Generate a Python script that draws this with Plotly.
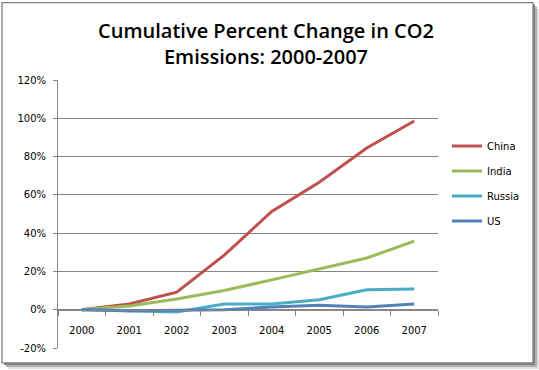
import plotly.graph_objects as go

years = ["2000", "2001", "2002", "2003", "2004", "2005", "2006", "2007"]
china = [0, 3.0, 9.2, 28.5, 51.3, 66.6, 84.5, 98.6]
india = [0, 2.0, 5.6, 10.0, 15.6, 21.4, 27.0, 35.8]
russia = [0, -0.5, -1.2, 3.0, 3.0, 5.2, 10.4, 10.8]
us = [0, -0.6, -0.3, 0.0, 1.4, 2.3, 1.4, 3.0]

series = [("China", china, "#C0504D"), ("India", india, "#9BBB59"),
          ("Russia", russia, "#4BACC6"), ("US", us, "#4F81BD")]

W, H = 539, 370
PX0, PX1, PY0, PY1 = 58, 438, 79.5, 348  # plot area pixels


def fx(px):
    return (px - PX0) / (PX1 - PX0)


def fy(py):
    return (PY1 - py) / (PY1 - PY0)


fig = go.Figure()
for i, (name, vals, col) in enumerate(series):
    fig.add_trace(go.Scatter(x=years, y=vals, name=name, mode="lines",
                             line=dict(color=col, width=3), legendgroup=name))

shapes = []
# shadow
for off, c in [(6, "#e0e0e0"), (4, "#b0b0b0"), (2, "#808080")]:
    shapes.append(dict(type="rect", xref="paper", yref="paper", layer="below",
                       x0=fx(2 + off), x1=fx(533 + off), y0=fy(363 + off), y1=fy(2 + off),
                       fillcolor=c, line=dict(width=0)))
shapes.append(dict(type="rect", xref="paper", yref="paper", layer="below",
                   x0=fx(2), x1=fx(533), y0=fy(363), y1=fy(2),
                   fillcolor="white", line=dict(color="#808080", width=1.3)))

fig.update_layout(
    width=W, height=H,
    margin=dict(l=PX0, r=W - PX1, t=PY0, b=H - PY1, pad=0),
    paper_bgcolor="white", plot_bgcolor="rgba(0,0,0,0)",
    shapes=shapes,
    title=dict(text="Cumulative Percent Change in CO2<br>Emissions: 2000-2007",
               x=fx(266), xanchor="center", xref="paper", y=1 - 38 / H, yanchor="middle",
               font=dict(family="Open Sans", size=20, weight=600, color="#000000")),
    font=dict(family="Verdana, DejaVu Sans", size=10, color="#000000"),
    showlegend=True,
    legend=dict(x=fx(447), y=fy(131), xanchor="left", yanchor="top",
                traceorder="grouped", tracegroupgap=6,
                font=dict(family="Verdana, DejaVu Sans", size=10, color="#000000"),
                bgcolor="rgba(0,0,0,0)"),
    xaxis=dict(type="category", range=[-0.5, 7.5], showgrid=False,
               anchor="free", position=20 / 140,
               showline=True, linecolor="#868686", linewidth=1,
               ticks="outside", tickson="boundaries", ticklen=5, tickcolor="#868686",
               ticklabelstandoff=11, zeroline=False, fixedrange=True),
    yaxis=dict(range=[-20, 120], tickvals=[-20, 0, 20, 40, 60, 80, 100, 120],
               ticktext=["-20%", "0%", "20%", "40%", "60%", "80%", "100%", "120%"],
               showgrid=True, gridcolor="#868686", gridwidth=1,
               showline=True, linecolor="#868686", linewidth=1,
               ticks="outside", ticklen=4, tickcolor="#868686",
               ticklabelstandoff=5, zeroline=False, fixedrange=True),
)

fig.write_html("out.html", config={"displayModeBar": False},
               post_script="document.body.style.margin='0px';")
